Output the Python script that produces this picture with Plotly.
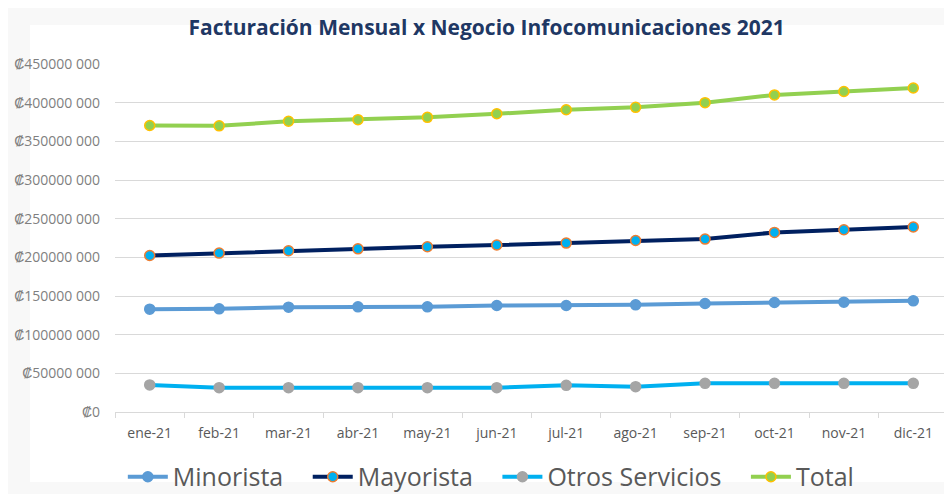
import plotly.graph_objects as go

months = ["ene-21", "feb-21", "mar-21", "abr-21", "may-21", "jun-21",
          "jul-21", "ago-21", "sep-21", "oct-21", "nov-21", "dic-21"]
minorista = [133.0e6, 133.4e6, 135.6e6, 136.0e6, 136.0e6, 137.7e6,
             137.7e6, 138.6e6, 140.3e6, 141.6e6, 142.0e6, 143.7e6]
mayorista = [202.4e6, 205.5e6, 208.5e6, 211.0e6, 213.7e6, 215.9e6,
             218.4e6, 221.8e6, 223.6e6, 232.2e6, 235.7e6, 239.2e6]
otros = [35.0e6, 31.5e6, 31.5e6, 31.5e6, 31.5e6, 31.5e6,
         34.5e6, 32.8e6, 37.1e6, 37.1e6, 37.1e6, 37.1e6]
total = [370.5e6, 370.0e6, 376.0e6, 378.0e6, 381.0e6, 385.6e6,
         390.8e6, 394.0e6, 400.0e6, 410.0e6, 414.5e6, 419.0e6]

tick_vals = [0, 50e6, 100e6, 150e6, 200e6, 250e6, 300e6, 350e6, 400e6, 450e6]
tick_text = ["₡0", "₡50000 000", "₡100000 000", "₡150000 000", "₡200000 000",
             "₡250000 000", "₡300000 000", "₡350000 000", "₡400000 000", "₡450000 000"]

series = [
    ("Minorista", minorista, "#5B9BD5", "#5B9BD5", "#5B9BD5"),
    ("Mayorista", mayorista, "#002060", "#00B0F0", "#ED7D31"),
    ("Otros Servicios", otros, "#00B0F0", "#A5A5A5", "#A5A5A5"),
    ("Total", total, "#92D050", "#92D050", "#FFC000"),
]

FONT = "Open Sans, sans-serif"
NB = "\u00a0"

fig = go.Figure()
for i, (name, vals, lc, mc, mlc) in enumerate(series):
    pad = NB * 3 if i < len(series) - 1 else ""
    fig.add_trace(go.Scatter(
        x=months, y=vals, name=name + pad, mode="lines+markers",
        line=dict(color=lc, width=4),
        marker=dict(color=mc, size=10, line=dict(color=mlc, width=1.5)),
    ))

fig.update_layout(
    width=944, height=486,
    margin=dict(l=107, r=4, t=56, b=82, autoexpand=False),
    paper_bgcolor="#F8F8F8",
    plot_bgcolor="white",
    title=dict(text="<b>Facturación Mensual x Negocio Infocomunicaciones 2021</b>",
               x=0.507, xanchor="center", yref="container", y=0.959, yanchor="middle",
               font=dict(family=FONT, size=21, color="#1F3864")),
    showlegend=True,
    legend=dict(orientation="h", xref="container", x=0.512, xanchor="center",
                yref="container", y=0.035, yanchor="middle",
                font=dict(family=FONT, size=25, color="#595959"),
                itemwidth=40, tracegroupgap=0, bgcolor="rgba(0,0,0,0)"),
    shapes=[dict(type="rect", xref="paper", yref="paper", x0=-0.102, x1=0.996,
                 y0=-0.201, y1=1.112, fillcolor="white", line=dict(width=0), layer="below")],
)
fig.update_xaxes(
    type="category", range=[-0.5, len(months) - 0.5],
    showgrid=False, showline=True, linecolor="#D9D9D9", linewidth=1,
    ticks="outside", tickson="boundaries", ticklen=5, tickcolor="#D9D9D9",
    ticklabelstandoff=8, automargin=False,
    tickfont=dict(family=FONT, size=14, color="#595959"),
)
fig.update_yaxes(
    range=[0, 450e6], tickvals=tick_vals, ticktext=tick_text,
    showgrid=True, gridcolor="#D9D9D9", gridwidth=1, zeroline=False, showline=False,
    ticklabelstandoff=14, automargin=False,
    tickfont=dict(family=FONT, size=14, color="#7F7F7F"),
)

fig.write_html("out.html")
